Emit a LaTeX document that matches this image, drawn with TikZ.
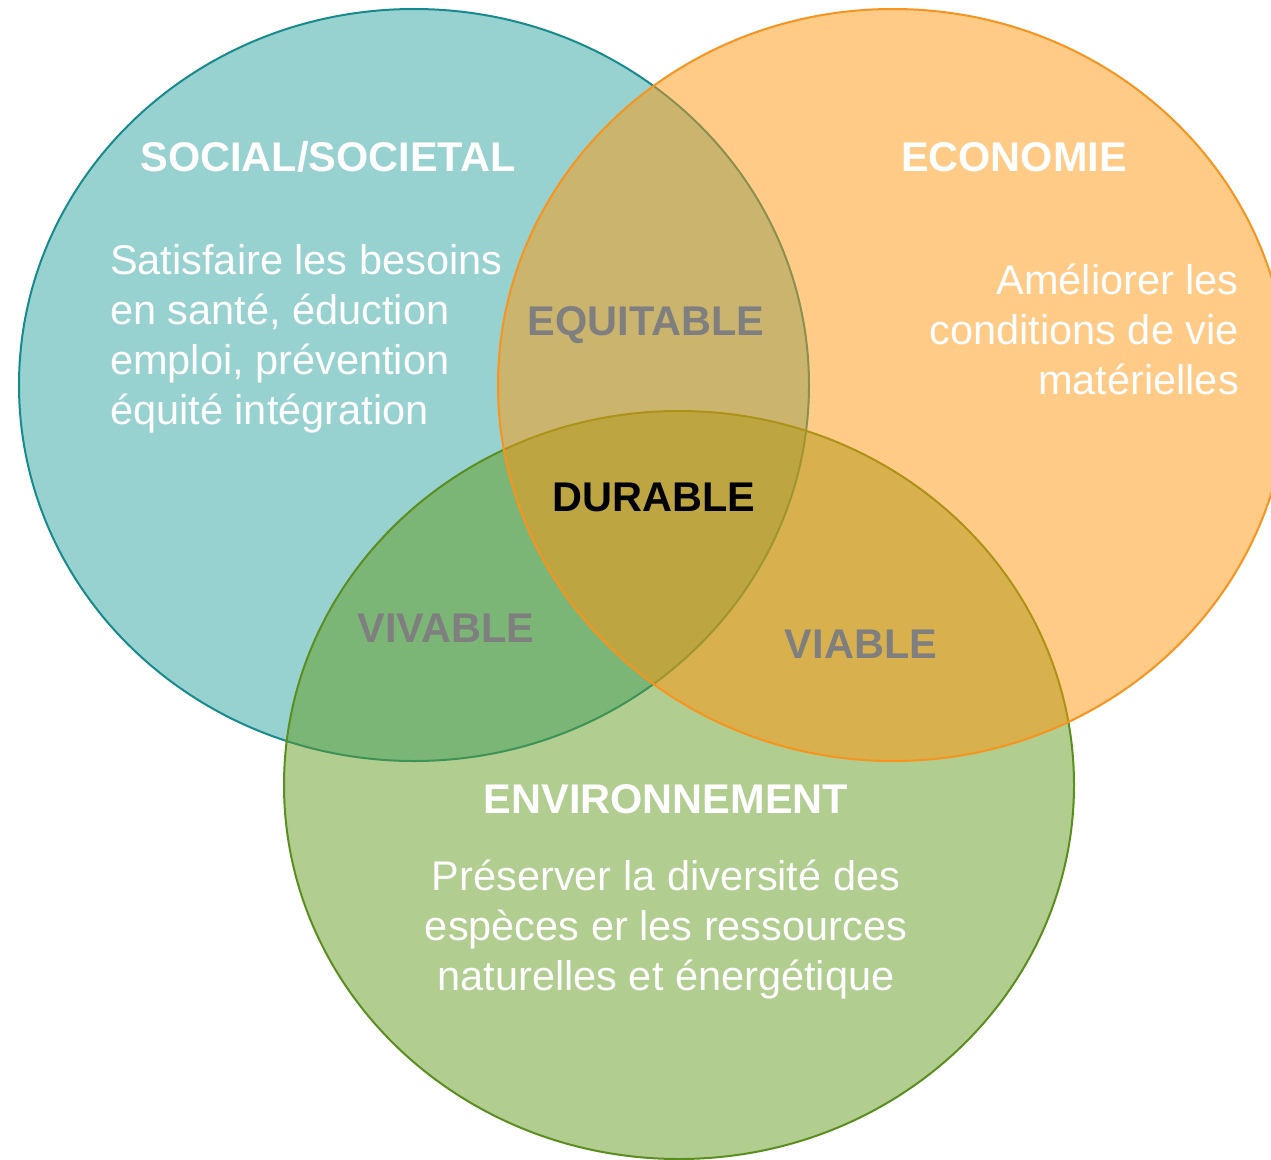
\documentclass[tikz,border=0pt]{standalone}
\usepackage{fontspec}
\setmainfont{Liberation Sans}

\definecolor{socialfill}{HTML}{2FA5A1}
\definecolor{socialline}{HTML}{178A8E}
\definecolor{ecofill}{HTML}{FF970F}
\definecolor{ecoline}{HTML}{F7941D}
\definecolor{envfill}{HTML}{639B1F}
\definecolor{envline}{HTML}{5A8E1E}
\definecolor{zonegray}{HTML}{7F7F7F}

\begin{document}
\begin{tikzpicture}[x=1pt, y=-1pt,
  bubble/.style={line width=2pt, fill opacity=0.5},
  title/.style={white, font=\fontsize{41.5}{50}\selectfont\bfseries, inner sep=0pt, anchor=base},
  body/.style={white, font=\fontsize{41.5}{50}\selectfont, inner sep=0pt},
  zone/.style={zonegray, font=\fontsize{41.5}{50}\selectfont\bfseries, inner sep=0pt, anchor=base}]

\useasboundingbox (0,0) rectangle (1271,1159);

\filldraw[bubble, draw=socialline, fill=socialfill] (414,385) ellipse [x radius=395pt, y radius=376pt];
\filldraw[bubble, draw=envline, fill=envfill] (679,785) ellipse [x radius=395pt, y radius=374pt];
\filldraw[bubble, draw=ecoline, fill=ecofill] (893,385) ellipse [x radius=395pt, y radius=376pt];

% base anchor sits on the last line
\node[title] (social) at (328,171) {SOCIAL/SOCIETAL};
\node[body, align=left, anchor=base west] (socialtxt) at (110,424)
  {Satisfaire les besoins\\en santé, éduction\\emploi, prévention\\équité intégration};

\node[title] (eco) at (1014,171) {ECONOMIE};
\node[body, align=right, anchor=base east] (ecotxt) at (1239,394)
  {Améliorer les\\conditions de vie\\matérielles};

\node[title] (env) at (666,813) {ENVIRONNEMENT};
\node[body, align=center, anchor=base] (envtxt) at (666,990)
  {Préserver la diversité des\\espèces er les ressources\\naturelles et énergétique};

\node[zone] (equitable) at (646,335) {EQUITABLE};
\node[zone, black] (durable) at (654,511) {DURABLE};
\node[zone] (vivable) at (446,642) {VIVABLE};
\node[zone] (viable) at (861,658) {VIABLE};

\end{tikzpicture}
\end{document}
